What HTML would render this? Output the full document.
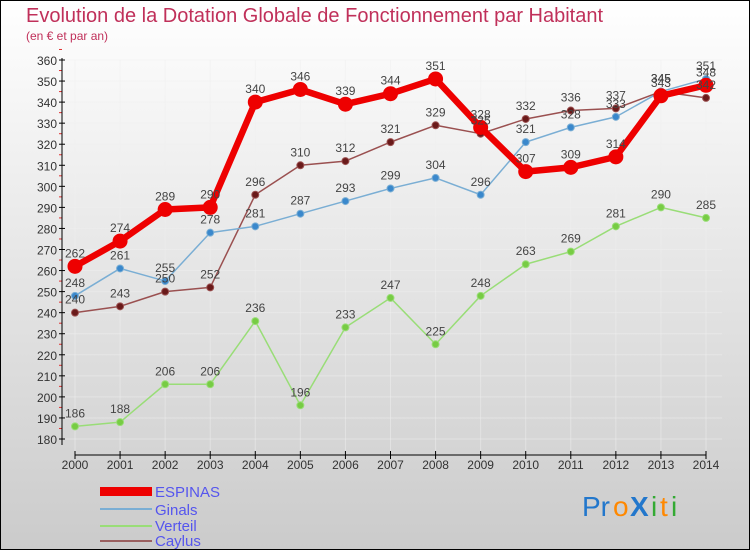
<!DOCTYPE html>
<html><head><meta charset="utf-8"><style>
body{margin:0}
#c{width:750px;height:550px;position:relative;overflow:hidden;font-family:"Liberation Sans",sans-serif}
</style></head><body>
<div id="c">
<svg id="s" width="750" height="550" xmlns="http://www.w3.org/2000/svg">
<defs><linearGradient id="bg" x1="0" y1="0" x2="0" y2="1"><stop offset="0" stop-color="#ffffff"/><stop offset="1" stop-color="#cbcbcb"/></linearGradient></defs>
<rect x="0.5" y="0.5" width="749" height="549" fill="url(#bg)" stroke="#000"/>
<text x="26" y="22" font-size="20" fill="#c0305a">Evolution de la Dotation Globale de Fonctionnement par Habitant</text>
<text x="26" y="40" font-size="12" fill="#c0305a">(en € et par an)</text>
<g id="grid"></g><g id="axes"></g><g id="series"></g><g id="labels"></g>
<g>
<rect x="100" y="487" width="52" height="9" fill="#ee0000"/>
<text x="155" y="497" font-size="15" fill="#5555ee">ESPINAS</text>
<line x1="100" y1="509" x2="152" y2="509" stroke="#7aaed4" stroke-width="2"/>
<text x="155" y="515" font-size="15" fill="#5555ee">Ginals</text>
<line x1="100" y1="526" x2="152" y2="526" stroke="#99dd77" stroke-width="2"/>
<text x="155" y="531" font-size="15" fill="#5555ee">Verteil</text>
<line x1="100" y1="541" x2="152" y2="541" stroke="#9a6060" stroke-width="2"/>
<text x="155" y="546" font-size="15" fill="#5555ee">Caylus</text>
</g>
<g font-size="28">
<text x="582" y="516" fill="#2277cc">Pr</text><text x="613" y="516" fill="#ff8800">o</text><text x="630" y="516" fill="#2277cc" font-weight="bold">X</text><text x="651" y="516" fill="#33aa33">i</text><text x="660" y="516" fill="#ff8800">t</text><text x="671" y="516" fill="#33aa33">i</text>
</g>
</svg>
</div>
<script>
const years=[2000,2001,2002,2003,2004,2005,2006,2007,2008,2009,2010,2011,2012,2013,2014];
const espinas=[262,274,289,290,340,346,339,344,351,328,307,309,314,343,348];
const ginals=[248,261,255,278,281,287,293,299,304,296,321,328,333,345,351];
const verteil=[186,188,206,206,236,196,233,247,225,248,263,269,281,290,285];
const caylus=[240,243,250,252,296,310,312,321,329,325,332,336,337,345,342];
const yTicks=[180,190,200,210,220,230,240,250,260,270,280,290,300,310,320,330,340,350,360];
const NS="http://www.w3.org/2000/svg";
function X(i){return 75+i*(706-75)/(years.length-1);}
function Y(v){return 439-(v-180)*(439-60)/180;}
function mk(tag,attrs,parent){const e=document.createElementNS(NS,tag);for(const k in attrs)e.setAttribute(k,attrs[k]);parent.appendChild(e);return e;}
const grid=document.getElementById('grid'),axes=document.getElementById('axes'),ser=document.getElementById('series'),lab=document.getElementById('labels');
yTicks.forEach(v=>{
 const l=mk('line',{x1:62,x2:722,y1:Y(v),y2:Y(v),stroke:'#f0f0f0','stroke-opacity':0.5},grid);
 
 
 const t=mk('line',{x1:59,x2:65,y1:Y(v),y2:Y(v),stroke:'#000'},axes);
 
 
 const m=mk('line',{x1:59,x2:62,y1:Y(v+5),y2:Y(v+5),stroke:'#e03030'},axes);
 
 
 const tx=mk('text',{x:57,y:Y(v)+5,'text-anchor':'end','font-size':12,fill:'#333'},axes);
 tx.textContent=v;
 
 
});
years.forEach((yr,i)=>{
 const l=mk('line',{x1:X(i),x2:X(i),y1:60,y2:455,stroke:'#f0f0f0','stroke-opacity':0.5},grid);
 
 
 const t=mk('line',{x1:X(i),x2:X(i),y1:451,y2:459,stroke:'#000'},axes);
 
 
 const tx=mk('text',{x:X(i),y:469,'text-anchor':'middle','font-size':12,fill:'#333'},axes);
 tx.textContent=yr;
 
 
});
const ya=mk('line',{x1:62,x2:62,y1:58,y2:445,stroke:'#000'},axes);


const xa=mk('line',{x1:75,x2:706,y1:455,y2:455,stroke:'#000'},axes);


function draw(name,vals,color,w,r,dot){
 const p=mk('polyline',{points:vals.map((v,i)=>X(i)+','+Y(v)).join(' '),fill:'none',stroke:color,'stroke-width':w,'stroke-linejoin':'round'},ser);
 
 
 vals.forEach((v,i)=>{
  const c=mk('circle',{cx:X(i),cy:Y(v),r:r,fill:dot,stroke:color,'stroke-width':1},ser);
  
  
  const t=mk('text',{x:X(i),y:Y(v)-9,'text-anchor':'middle','font-size':12,fill:'#444'},lab);
  t.textContent=v;
  
  
 });
}
draw('verteil',verteil,'#99dd77',1.5,3.5,'#77cc44');
draw('caylus',caylus,'#9a5050',1.5,3.5,'#6a1a1a');
draw('ginals',ginals,'#7aaed4',1.5,3.5,'#3a88cc');
draw('espinas',espinas,'#ee0000',6.5,7,'#ee0000');
</script>
</body></html>
